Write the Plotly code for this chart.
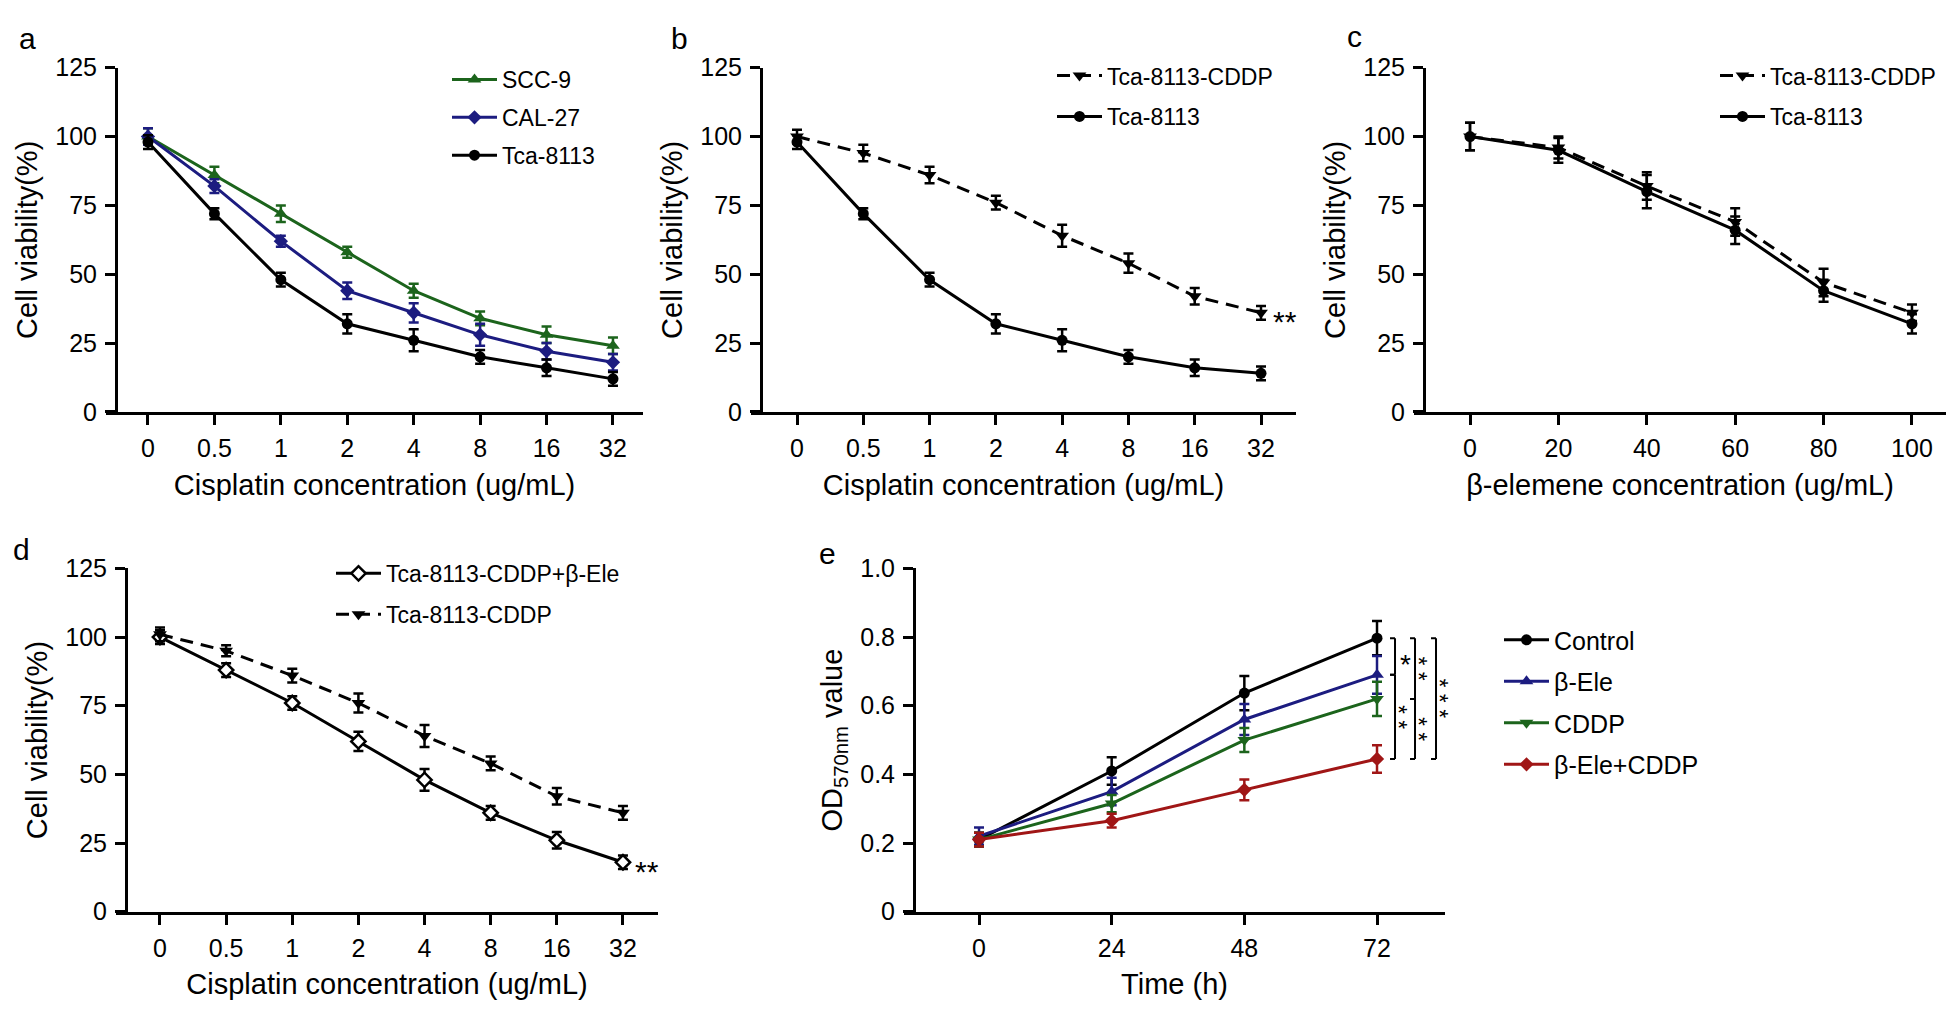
import plotly.graph_objects as go

W, H = 1960, 1012
FONT = "Liberation Sans, Arial, sans-serif"

# ---------------- data ----------------
conc_labels = ['0', '0.5', '1', '2', '4', '8', '16', '32']

a_scc9 = [100, 86, 72, 58, 44, 34, 28, 24]
a_scc9_err = [3, 3, 3, 2, 2.5, 2.5, 3, 3]
a_cal27 = [100, 82, 62, 44, 36, 28, 22, 18]
a_cal27_err = [3, 2.5, 2, 3, 3.5, 4, 3, 3]
a_tca = [98, 72, 48, 32, 26, 20, 16, 12]
a_tca_err = [2.5, 2, 2.5, 3.5, 4, 2.5, 3, 2.5]

b_cddp = [100, 94, 86, 76, 64, 54, 42, 36]
b_cddp_err = [2.5, 3, 3, 2.5, 4, 3.5, 3, 2.5]
b_tca = [98, 72, 48, 32, 26, 20, 16, 14]
b_tca_err = [2.5, 2, 2.5, 3.5, 4, 2.5, 3, 2.5]

c_conc = [0, 20, 40, 60, 80, 100]
c_cddp = [100, 96, 82, 69, 47, 36]
c_cddp_err = [5, 4, 5, 5, 5, 3]
c_tca = [100, 95, 80, 66, 44, 32]
c_tca_err = [5, 4.5, 6, 5, 4, 3.5]

d_combo = [100, 88, 76, 62, 48, 36, 26, 18]
d_combo_err = [2.5, 2.5, 2.5, 3.5, 4, 2.5, 3, 2.5]
d_cddp = [101, 95, 86, 76, 64, 54, 42, 36]
d_cddp_err = [2.5, 2, 2.5, 3.5, 4, 2.5, 3, 2.5]

e_time = [0, 24, 48, 72]
e_control = [0.21, 0.41, 0.637, 0.797]
e_control_err = [0.02, 0.04, 0.05, 0.05]
e_beta = [0.22, 0.35, 0.56, 0.69]
e_beta_err = [0.025, 0.04, 0.045, 0.055]
e_cddp = [0.21, 0.315, 0.50, 0.62]
e_cddp_err = [0.02, 0.025, 0.035, 0.05]
e_combo = [0.21, 0.265, 0.355, 0.445]
e_combo_err = [0.02, 0.02, 0.03, 0.04]

viab_ticks = [0, 25, 50, 75, 100, 125]
od_ticks = [0, 0.2, 0.4, 0.6, 0.8, 1.0]
od_ticktext = ['0', '0.2', '0.4', '0.6', '0.8', '1.0']

GREEN = 'rgb(28,100,28)'
NAVY = 'rgb(28,28,128)'
BLACK = 'rgb(0,0,0)'
RED = 'rgb(160,22,22)'


def px(x):
    return x / W


def py(y):
    return 1 - y / H


fig = go.Figure()


def add(x, y, err, name, color, symbol, xa, ya, legend, dash='solid', size=11,
        fill=None):
    fig.add_trace(go.Scatter(
        x=x, y=y, name=name, mode='lines+markers',
        xaxis=xa, yaxis=ya, legend=legend, legendgroup=legend + name,
        line=dict(color=color, width=3, dash=dash),
        marker=dict(symbol=symbol, size=size, color=fill if fill else color,
                    line=dict(color=color, width=2.5 if fill else 0)),
        error_y=dict(type='data', array=err, visible=True, color=color,
                     thickness=2.5, width=5),
        cliponaxis=False,
    ))


DASH = '13px,8px'
# panel a
add(conc_labels, a_scc9, a_scc9_err, 'SCC-9', GREEN, 'triangle-up', 'x', 'y', 'legend', size=12)
add(conc_labels, a_cal27, a_cal27_err, 'CAL-27', NAVY, 'diamond', 'x', 'y', 'legend', size=11)
add(conc_labels, a_tca, a_tca_err, 'Tca-8113', BLACK, 'circle', 'x', 'y', 'legend', size=11)
# panel b
add(conc_labels, b_cddp, b_cddp_err, 'Tca-8113-CDDP', BLACK, 'triangle-down', 'x2', 'y2', 'legend2', dash=DASH, size=12)
add(conc_labels, b_tca, b_tca_err, 'Tca-8113', BLACK, 'circle', 'x2', 'y2', 'legend2', size=11)
# panel c
add(c_conc, c_cddp, c_cddp_err, 'Tca-8113-CDDP', BLACK, 'triangle-down', 'x3', 'y3', 'legend3', dash=DASH, size=12)
add(c_conc, c_tca, c_tca_err, 'Tca-8113', BLACK, 'circle', 'x3', 'y3', 'legend3', size=11)
# panel d
add(conc_labels, d_combo, d_combo_err, 'Tca-8113-CDDP+β-Ele', BLACK, 'diamond', 'x4', 'y4', 'legend4', size=11, fill='white')
add(conc_labels, d_cddp, d_cddp_err, 'Tca-8113-CDDP', BLACK, 'triangle-down', 'x4', 'y4', 'legend4', dash=DASH, size=12)
# panel e
add(e_time, e_control, e_control_err, 'Control', BLACK, 'circle', 'x5', 'y5', 'legend5', size=11)
add(e_time, e_beta, e_beta_err, 'β-Ele', NAVY, 'triangle-up', 'x5', 'y5', 'legend5', size=12)
add(e_time, e_cddp, e_cddp_err, 'CDDP', GREEN, 'triangle-down', 'x5', 'y5', 'legend5', size=12)
add(e_time, e_combo, e_combo_err, 'β-Ele+CDDP', RED, 'diamond', 'x5', 'y5', 'legend5', size=11)

axis_common = dict(showline=True, linecolor='black', linewidth=3, ticks='outside',
                   ticklen=10, tickwidth=3, tickcolor='black', showgrid=False,
                   zeroline=False, tickfont=dict(family=FONT, size=25, color='black'),
                   fixedrange=True)
title_font = dict(family=FONT, size=29, color='black')

# (yaxis x px, xaxis start px, xaxis end px, y top px, y bottom px, x range)
panels = {
    '': dict(yx=108, x0=98, x1=635, top=47, bot=401, xr=[-0.632, 7.452]),
    '2': dict(yx=753, x0=743, x1=1288, top=47, bot=401, xr=[-0.694, 7.528]),
    '3': dict(yx=1416, x0=1406, x1=1938, top=47, bot=401, xr=[-12.67, 107.7]),
    '4': dict(yx=118, x0=108, x1=650, top=562, bot=915, xr=[-0.665, 7.53]),
    '5': dict(yx=906, x0=896, x1=1437, top=562, bot=915, xr=[-13.57, 84.3]),
}
xtitles = {'': 'Cisplatin concentration (ug/mL)', '2': 'Cisplatin concentration (ug/mL)',
           '3': 'β-elemene concentration (ug/mL)', '4': 'Cisplatin concentration (ug/mL)',
           '5': 'Time (h)'}

layout = {}
for k, p in panels.items():
    xa = dict(axis_common, domain=[px(p['x0']), px(p['x1'])], range=p['xr'],
              anchor='y' + k, ticklabelstandoff=2,
              title=dict(text=xtitles[k], font=title_font, standoff=14))
    if k in ('', '2', '4'):
        xa.update(type='category', categoryarray=conc_labels, categoryorder='array')
    elif k == '3':
        xa.update(tickvals=c_conc)
    else:
        xa.update(tickvals=e_time)
    ya = dict(axis_common, domain=[py(p['bot']), py(p['top'])], anchor='free',
              position=px(p['yx']), ticklabelstandoff=3)
    if k == '5':
        ya.update(range=[0, 1.0], tickvals=od_ticks, ticktext=od_ticktext,
                  title=dict(text='OD<sub>570nm</sub> value', font=title_font, standoff=8))
    else:
        ya.update(range=[0, 125], tickvals=viab_ticks,
                  title=dict(text='Cell viability(%)', font=title_font, standoff=8))
    layout['xaxis' + k] = xa
    layout['yaxis' + k] = ya


def legend(xline, ytop, size=23, gap=5):
    return dict(x=px(xline - 8), y=py(ytop), xanchor='left', yanchor='top',
                bgcolor='rgba(0,0,0,0)', font=dict(family=FONT, size=size, color='black'),
                itemwidth=45, tracegroupgap=gap, traceorder='grouped')


layout['legend'] = legend(447, 57 - 20)
layout['legend2'] = legend(1052, 53 - 20, gap=8)
layout['legend3'] = legend(1715, 53 - 20, gap=8)
layout['legend4'] = legend(331, 565 - 20, gap=8)
layout['legend5'] = legend(1499, 633 - 21, size=25, gap=6)

annotations = []
for letter, (lx, ly) in zip('abcde', [(19, 17), (671, 17), (1346, 15), (13, 542), (819, 547)]):
    annotations.append(dict(text=letter, x=px(lx), y=py(ly), xref='paper', yref='paper',
                            xanchor='center', yanchor='middle',
                            showarrow=False, font=dict(family=FONT, size=30, color='black')))

star_font = dict(family=FONT, size=30, color='black')
last_idx = len(conc_labels) - 1  # category axes take the serial number of a category
annotations.append(dict(text='**', x=last_idx, y=b_cddp[-1], xref='x2', yref='y2',
                        xanchor='left', xshift=10, yshift=-9, showarrow=False, font=star_font))
annotations.append(dict(text='**', x=last_idx, y=d_combo[-1], xref='x4', yref='y4',
                        xanchor='left', xshift=10, yshift=-9, showarrow=False, font=star_font))

# significance brackets on panel e, at the last time point
last = e_time[-1]
brackets = [
    (e_control[-1], e_beta[-1], 18, 1),
    (e_beta[-1], e_combo[-1], 18, 2),
    (e_control[-1], e_cddp[-1], 38, 2),
    (e_cddp[-1], e_combo[-1], 38, 2),
    (e_control[-1], e_combo[-1], 59, 3),
]
shapes = []
for y0, y1, off, nstar in brackets:
    line = dict(color='black', width=2)
    shapes.append(dict(type='line', xref='x5', yref='y5', xsizemode='pixel', xanchor=last,
                       x0=off, x1=off, y0=y0, y1=y1, line=line))
    for yy in (y0, y1):
        shapes.append(dict(type='line', xref='x5', yref='y5', xsizemode='pixel', xanchor=last,
                           x0=off - 5, x1=off, y0=yy, y1=yy, line=line))
    mid = (y0 + y1) / 2
    if nstar == 1:
        annotations.append(dict(text='*', x=last, y=mid, xref='x5', yref='y5',
                                xshift=off + 10, yshift=-8, showarrow=False,
                                font=dict(family=FONT, size=28, color='black')))
    else:
        annotations.append(dict(text=' '.join(['*'] * nstar), x=last, y=mid,
                                xref='x5', yref='y5', textangle=90,
                                xshift=off + 3, showarrow=False,
                                font=dict(family=FONT, size=23, color='black')))

fig.update_layout(
    width=W, height=H, margin=dict(l=0, r=0, t=0, b=0),
    paper_bgcolor='white', plot_bgcolor='white',
    font=dict(family=FONT, color='black'),
    annotations=annotations, shapes=shapes, **layout,
)

fig.write_html("out.html")
